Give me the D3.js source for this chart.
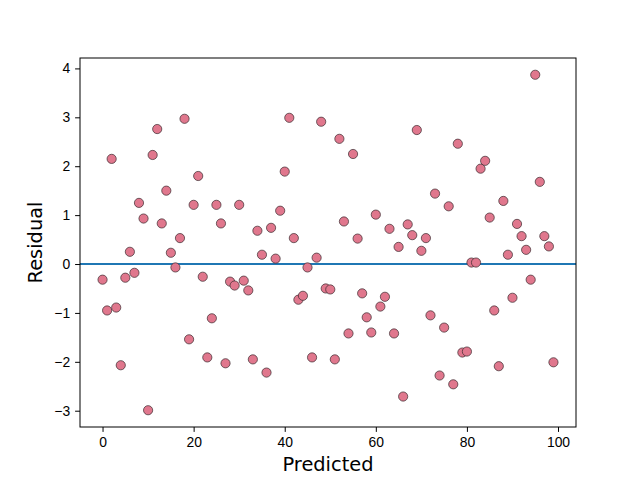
<!DOCTYPE html>
<style>
  body { margin: 0; background: #fff; }
  svg { font-family: 'DejaVu Sans', sans-serif; }
  .tick text { font-size: 13.9px; fill: #000; }
  .tick line { stroke: #000; }
  .domain { display: none; }
  .label { font-size: 19.4px; fill: #000; }
  .dot { fill: #e0778d; stroke: #3a2a2e; stroke-width: 0.7; }
</style>
<body>
</body>
<script src="https://cdn.jsdelivr.net/npm/d3@7/dist/d3.min.js"></script>
<script>
  const predicted = d3.range(100);
  const residual = [
    -0.32, -0.95, 2.15, -0.89, -2.07, -0.28, 0.25, -0.18, 1.25, 0.93,
    -2.99, 2.23, 2.76, 0.83, 1.50, 0.23, -0.07, 0.53, 2.97, -1.54,
    1.21, 1.80, -0.26, -1.91, -1.11, 1.21, 0.83, -2.03, -0.36, -0.44,
    1.21, -0.34, -0.54, -1.95, 0.68, 0.19, -2.22, 0.74, 0.11, 1.09,
    1.89, 2.99, 0.53, -0.73, -0.65, -0.07, -1.91, 0.13, 2.91, -0.50,
    -0.52, -1.95, 2.56, 0.87, -1.42, 2.25, 0.52, -0.60, -1.09, -1.40,
    1.01, -0.87, -0.67, 0.72, -1.42, 0.35, -2.71, 0.81, 0.59, 2.74,
    0.27, 0.53, -1.05, 1.44, -2.28, -1.30, 1.18, -2.46, 2.46, -1.81,
    -1.79, 0.03, 0.03, 1.95, 2.11, 0.95, -0.95, -2.09, 1.29, 0.19,
    -0.69, 0.82, 0.57, 0.29, -0.32, 3.87, 1.68, 0.57, 0.36, -2.01
  ];
  const xTicks = [0, 20, 40, 60, 80, 100];
  const yTicks = [-3, -2, -1, 0, 1, 2, 3, 4];

  const w = 640, h = 480;
  const l = 80, r = 576, t = 58, b = 427;

  const svg = d3.select('body').append('svg')
    .attr('width', w).attr('height', h);

  const x = d3.scaleLinear().domain([-4.95, 103.95]).range([l, r]);
  const y = d3.scaleLinear().domain([-3.333, 4.213]).range([b, t]);

  svg.append('g')
    .attr('transform', `translate(0, ${b})`)
    .call(d3.axisBottom(x).tickValues(xTicks).tickSize(4.9).tickPadding(4.9));

  svg.append('g')
    .attr('transform', `translate(${l}, 0)`)
    .call(d3.axisLeft(y).tickValues(yTicks).tickSize(4.9).tickPadding(4.9)
      .tickFormat(d => d < 0 ? '\u2212' + Math.abs(d) : d));

  // zero line
  svg.append('line')
    .attr('x1', l).attr('x2', r)
    .attr('y1', y(0)).attr('y2', y(0))
    .attr('stroke', '#1f77b4').attr('stroke-width', 2);

  svg.append('g').selectAll('circle')
    .data(predicted)
    .join('circle')
    .attr('class', 'dot')
    .attr('cx', d => x(d))
    .attr('cy', (d, i) => y(residual[i]))
    .attr('r', 4.6);

  // frame
  svg.append('rect')
    .attr('x', l).attr('y', t)
    .attr('width', r - l).attr('height', b - t)
    .attr('fill', 'none').attr('stroke', '#000').attr('stroke-width', 1);

  svg.append('text').attr('class', 'label')
    .attr('x', (l + r) / 2).attr('y', 471)
    .attr('text-anchor', 'middle')
    .text('Predicted');

  svg.append('text').attr('class', 'label')
    .attr('transform', `translate(42, ${(t + b) / 2}) rotate(-90)`)
    .attr('text-anchor', 'middle')
    .text('Residual');
</script>
